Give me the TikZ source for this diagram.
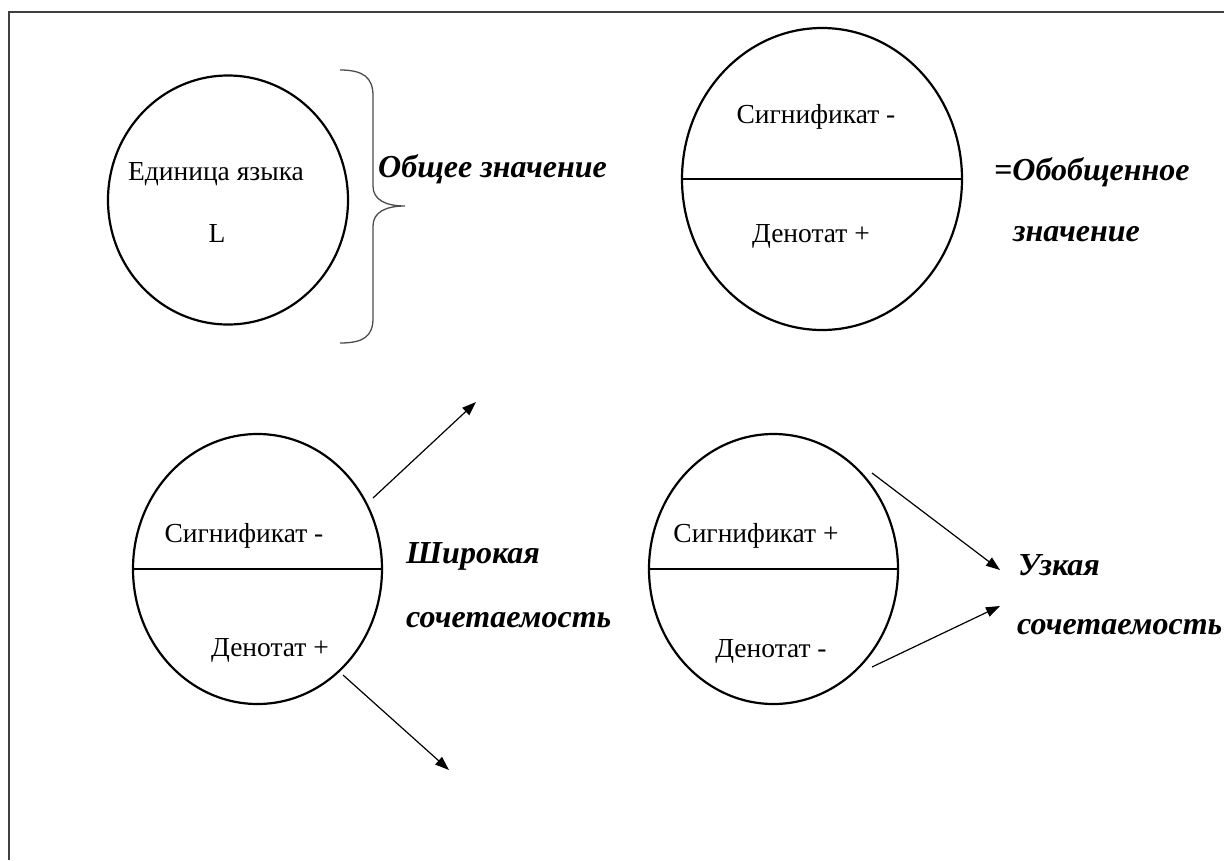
\documentclass[tikz,border=0pt]{standalone}
\usepackage{fontspec}
\setmainfont{Liberation Serif}
\usetikzlibrary{shapes.geometric,arrows.meta}
\tikzset{
  x=1pt,y=-1pt,
  oval/.style={draw,ellipse,line width=2.2pt,inner sep=0pt},
  divider/.style={line width=1.5pt},
  lbl/.style={font=\fontsize{27.5}{32}\selectfont,inner sep=0pt,anchor=base},
  big/.style={font=\fontsize{32}{38}\selectfont\bfseries\itshape,inner sep=0pt,anchor=base west},
  arr/.style={line width=1.2pt,-{Triangle[length=14pt,width=10pt]}},
  frame/.style={line width=1.5pt,draw=black!75},
  bracestyle/.style={line width=1.3pt,draw=black!70}
}
\begin{document}
\begin{tikzpicture}
\useasboundingbox (0,0) rectangle (1224,860);
\fill[white] (0,0) rectangle (1224,860);
% frame
\draw[frame] (1224,12) -- (9,12) -- (9,860);

% circle 1
\node[oval,minimum width=240pt,minimum height=249pt] (c1) at (228,200) {};
\node[lbl] (t1) at (216,180) {Единица языка};
\node[lbl] (t2) at (217,242) {L};
% brace
\draw[bracestyle] (340,70) .. controls (364,70) and (373,78) .. (373,96) -- (373,186)
  .. controls (373,200) and (386,206) .. (405,206)
  .. controls (386,206) and (373,212) .. (373,226) -- (373,318)
  .. controls (373,336) and (364,343) .. (340,343);
\node[big] (g1) at (378,177) {Общее значение};

% circle 2
\node[oval,minimum width=280pt,minimum height=302pt] (c2) at (822,179) {};
\draw[divider] (c2.west) -- (c2.east);
\node[lbl] (s2) at (816,123) {Сигнификат -};
\node[lbl] (d2) at (811,242) {Денотат +};
\node[big] (g2a) at (994,180) {=Обобщенное};
\node[big] (g2b) at (1013,241) {значение};

% circle 3
\node[oval,minimum width=249pt,minimum height=270pt] (c3) at (257.5,569) {};
\draw[divider] (c3.west) -- (c3.east);
\node[lbl] (s3) at (244,542) {Сигнификат -};
\node[lbl] (d3) at (270,656) {Денотат +};
\node[big] (g3a) at (406,563) {Широкая};
\node[big] (g3b) at (406,627) {сочетаемость};
\coordinate (a3s) at (373,498);
\coordinate (a3e) at (476,402);
\coordinate (b3s) at (343,675);
\coordinate (b3e) at (449,770);
\draw[arr] (a3s) -- (a3e);
\draw[arr] (b3s) -- (b3e);

% circle 4
\node[oval,minimum width=249pt,minimum height=270pt] (c4) at (773.5,569) {};
\draw[divider] (c4.west) -- (c4.east);
\node[lbl] (s4) at (756,542) {Сигнификат +};
\node[lbl] (d4) at (771,657) {Денотат -};
\node[big] (g4a) at (1018,575) {Узкая};
\node[big] (g4b) at (1017,634) {сочетаемость};
\coordinate (a4s) at (872,473);
\coordinate (a4e) at (1000,570);
\coordinate (b4s) at (872,667);
\coordinate (b4e) at (1000,606);
\draw[arr] (a4s) -- (a4e);
\draw[arr] (b4s) -- (b4e);
\end{tikzpicture}
\end{document}
